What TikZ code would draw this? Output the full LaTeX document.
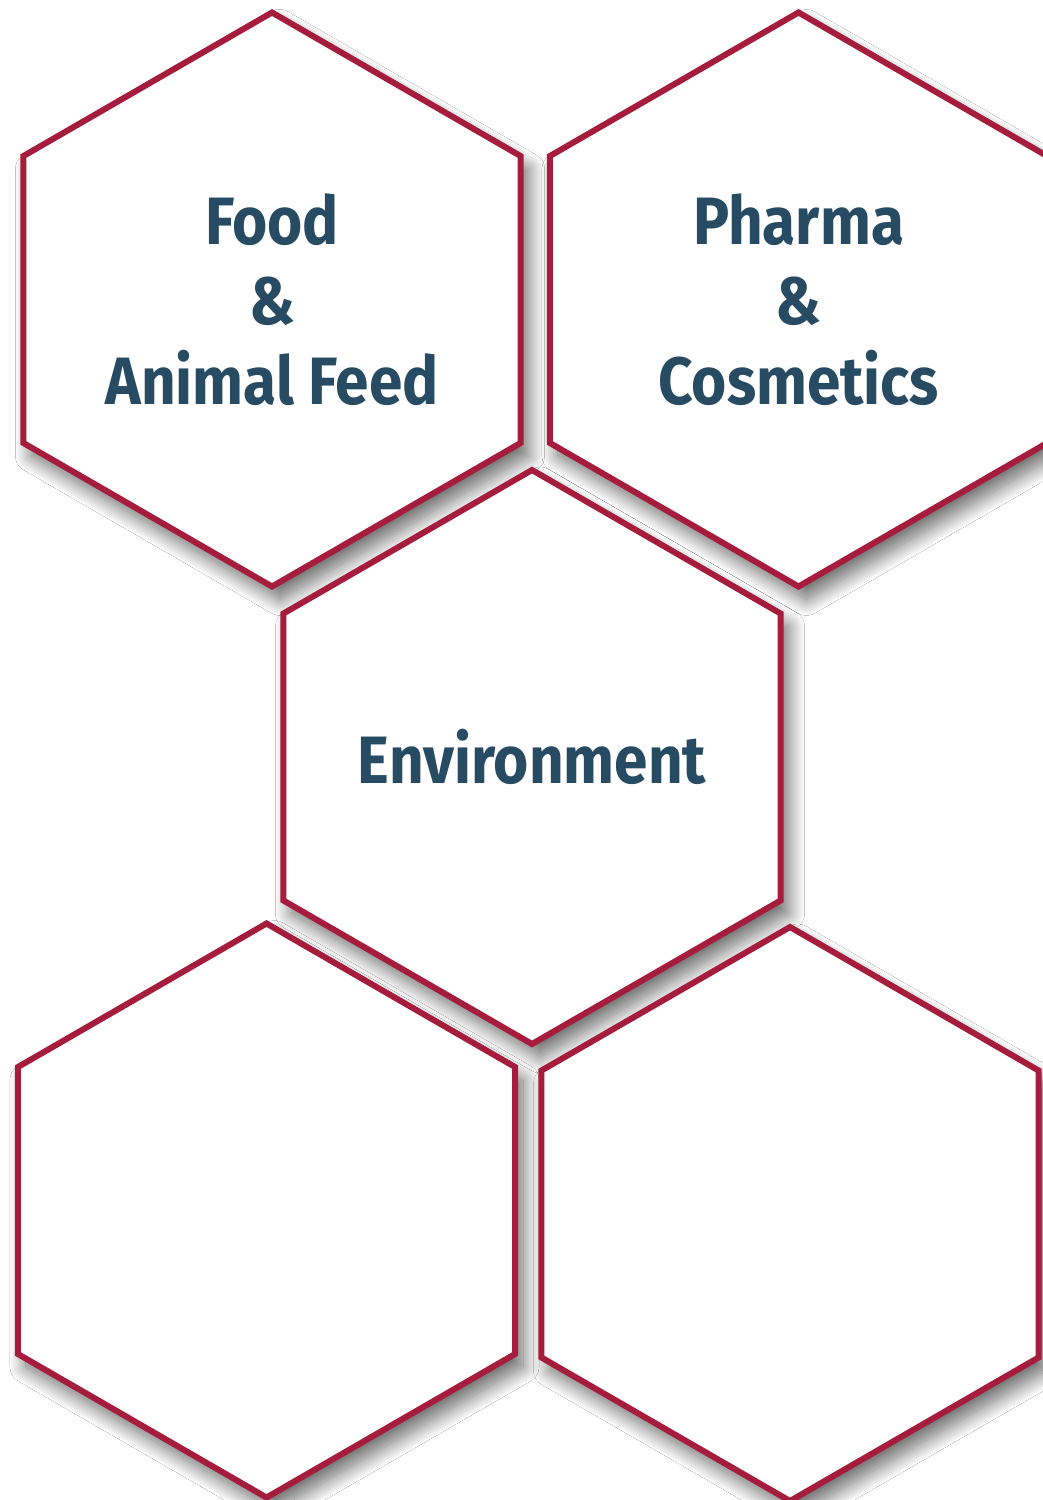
\documentclass[tikz,border=0pt]{standalone}
\usepackage{fontspec}
\setmainfont{Fira Sans}
\newfontfamily\hexfont[FakeStretch=0.9]{Fira Sans}
\usetikzlibrary{shapes.geometric,shadows.blur}
\definecolor{hexred}{HTML}{A51C3D}
\definecolor{hextext}{HTML}{274B62}
\begin{document}
\begin{tikzpicture}[x=1pt,y=-1pt,
  hexcell/.style={regular polygon, regular polygon sides=6, shape border rotate=30,
    minimum size=574pt, inner sep=0pt, outer sep=0pt,
    draw=hexred, line width=6pt, fill=white, line join=miter,
    blur shadow={shadow xshift=8pt, shadow yshift=-13pt, shadow blur radius=16pt,
      shadow blur steps=24, shadow opacity=60},
    text=hextext, font=\hexfont\bfseries\fontsize{67}{80}\selectfont, align=center}]
\path[use as bounding box, fill=white] (0,0) rectangle (1043,1500);
\node[hexcell] (food) at (272,299.5) {Food\\\&\\Animal Feed};
\node[hexcell] (pharma) at (798.5,299.5) {Pharma\\\&\\Cosmetics};
\node[hexcell] (env) at (532,757) {Environment};
\node[hexcell] (blankA) at (266.5,1210.5) {};
\node[hexcell] (blankB) at (790,1214) {};
\end{tikzpicture}
\end{document}
